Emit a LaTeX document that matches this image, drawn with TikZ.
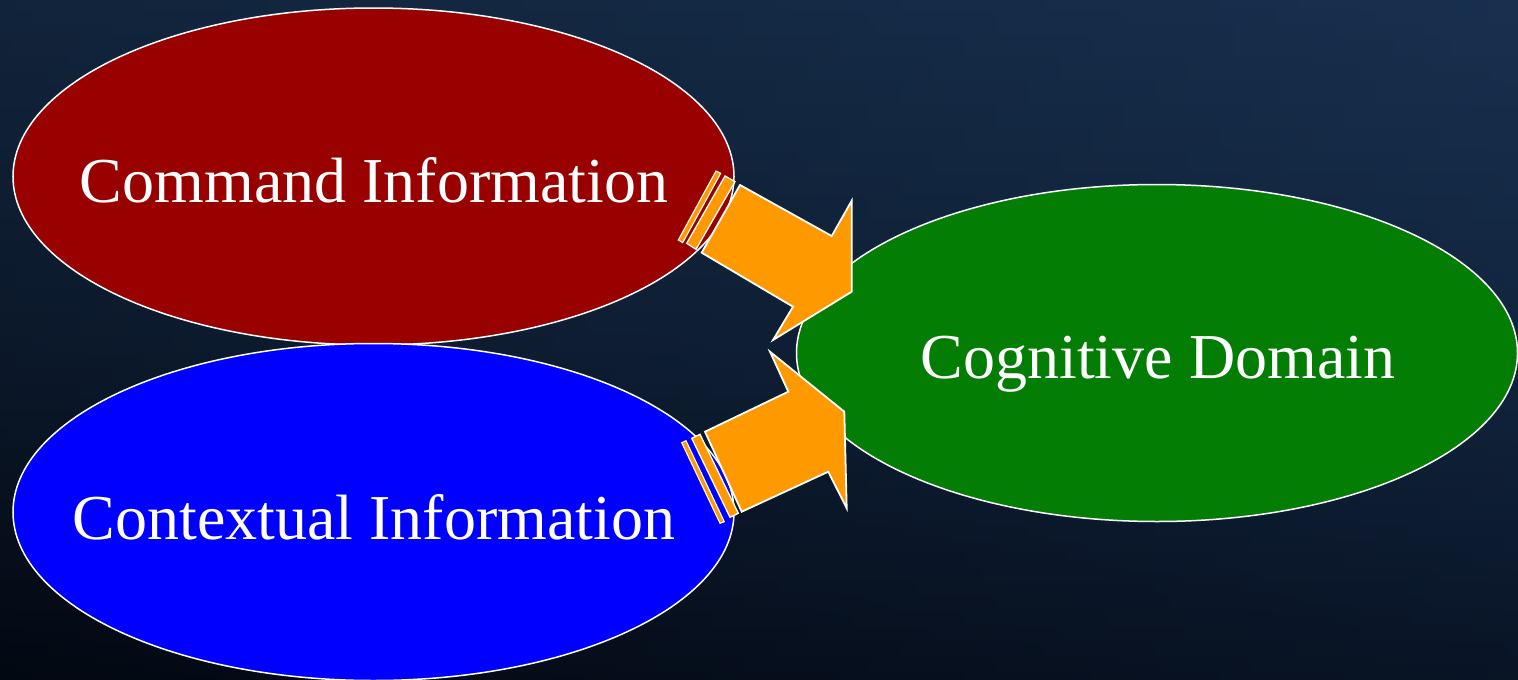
\documentclass[tikz,border=0pt]{standalone}
\usepackage{fontspec}
\setmainfont{Liberation Serif}
\usetikzlibrary{shapes.geometric}
\definecolor{bgtop}{HTML}{18304F}
\definecolor{bgbot}{HTML}{040B18}
\definecolor{cmdred}{HTML}{990000}
\definecolor{ctxblue}{HTML}{0000FF}
\definecolor{coggreen}{HTML}{037D03}
\definecolor{arroworange}{HTML}{FF9900}
\tikzset{
  bubble/.style={ellipse, draw=white, line width=1.5pt, minimum width=721pt, minimum height=337pt, inner sep=0pt},
  bubbletext/.style={text=white, font=\fontsize{64}{70}\selectfont, anchor=base, inner sep=0pt},
  blockarrow/.style={fill=arroworange, draw=white, line width=1.8pt, line join=miter},
}
\begin{document}
\begin{tikzpicture}[x=1pt,y=-1pt]
\useasboundingbox (0,0) rectangle (1518,680);
\clip (0,0) rectangle (1518,680);
\shade[top color=bgtop, bottom color=bgbot, middle color=bgtop!60!bgbot] (0,0) rectangle (1518,680);
\shade[left color=black, right color=bgtop, opacity=0.25] (0,0) rectangle (1518,680);
% bubbles
\node[bubble, fill=cmdred] (cmd) at (373.5,176.5) {};
\node[bubble, fill=ctxblue] (ctx) at (373.5,512) {};
\node[bubble, fill=coggreen] (cog) at (1157,353) {};
\node[bubbletext] (cmdt) at (374,202) {Command Information};
\node[bubbletext] (ctxt) at (374,539) {Contextual Information};
\node[bubbletext] (cogt) at (1158,378) {Cognitive Domain};
% upper striped arrow
\draw[blockarrow] (740,185) -- (831.7,236) -- (851.7,200.7) -- (851.7,291.7) -- (773,340) -- (793,306.7) -- (701.7,252.7) -- cycle;
\draw[blockarrow, line width=1.3pt] (725,176) -- (735,181.7) -- (696,249.3) -- (686.7,243.3) -- cycle;
\draw[blockarrow, line width=1.1pt] (716,171) -- (720.7,173.3) -- (682.7,242.7) -- (678.3,240) -- cycle;
% lower striped arrow
\draw[blockarrow] (705,431.7) -- (788.3,391.7) -- (770,351.7) -- (844.3,411.7) -- (846.7,508.3) -- (828.3,471.7) -- (741.7,511.7) -- cycle;
\draw[blockarrow, line width=1.3pt] (691.7,438.3) -- (700,434.3) -- (738.3,513.3) -- (730,517.3) -- cycle;
\draw[blockarrow, line width=1.1pt] (681.7,442.7) -- (686,440.7) -- (724.3,521.7) -- (720,523.3) -- cycle;
\end{tikzpicture}
\end{document}
